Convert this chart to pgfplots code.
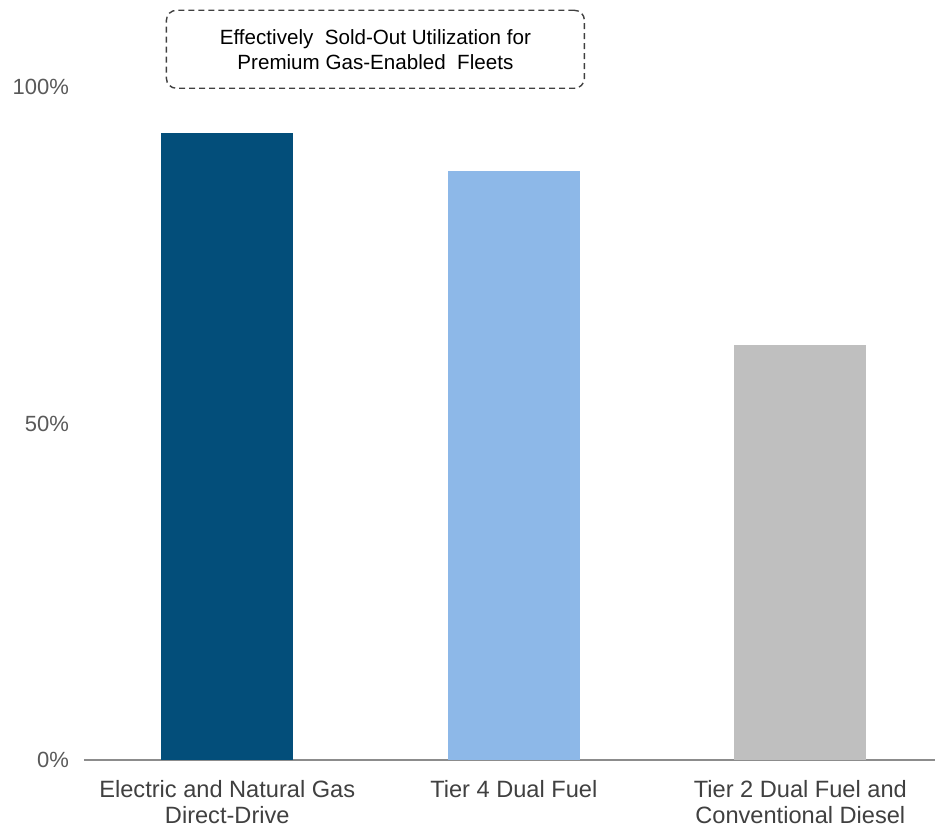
\documentclass[border=0pt]{standalone}
\usepackage{pgfplots}
\pgfplotsset{compat=1.18}
\usepackage{fontspec}
\setmainfont{Liberation Sans}
\definecolor{navy}{HTML}{034E7A}
\definecolor{lblue}{HTML}{8DB8E8}
\definecolor{lgray}{HTML}{BFBFBF}
\definecolor{tickgray}{HTML}{595959}
\definecolor{labgray}{HTML}{404040}
\begin{document}
\begin{tikzpicture}
\begin{axis}[
  scale only axis,
  width=425.5pt, height=336.5pt,
  xmin=-0.5, xmax=2.47,
  ymin=0, ymax=100,
  axis x line*=bottom,
  axis y line*=left,
  y axis line style={draw=none},
  x axis line style={draw=gray!90, line width=1pt, -},
  ytick={0,50,100},
  yticklabels={0\%,50\%,100\%},
  major tick length=0pt,
  xtick={0,1,2},
  xticklabels={{Electric and Natural Gas\\Direct-Drive},{Tier 4 Dual Fuel},{Tier 2 Dual Fuel and\\Conventional Diesel}},
  xticklabel style={align=center, font=\fontsize{11.8}{13.2}\selectfont, text=labgray, anchor=north, yshift=-6.5pt},
  yticklabel style={font=\fontsize{11}{12}\selectfont, text=tickgray, xshift=-4pt},
  /pgf/number format/assume math mode=true,
  ybar, bar width=66pt,
  clip=false,
]
\addplot[fill=navy, draw=none, bar shift=0pt] coordinates {(0,93.2)};
\addplot[fill=lblue, draw=none, bar shift=0pt] coordinates {(1,87.5)};
\addplot[fill=lgray, draw=none, bar shift=0pt] coordinates {(2,61.7)};
\node[draw=labgray, dash pattern=on 3pt off 2pt, line width=0.7pt, rounded corners=5pt,
  minimum width=209pt, minimum height=39pt, align=center,
  font=\fontsize{10.3}{12.5}\selectfont] at (axis cs:0.517,105.6)
  {Effectively\ \ Sold-Out Utilization for\\Premium Gas-Enabled\ \ Fleets};
\end{axis}
\pgfresetboundingbox
\path (current axis.south west) ++(-42pt,-34pt) rectangle ([yshift=43.5pt]current axis.north east);
\end{tikzpicture}
\end{document}
